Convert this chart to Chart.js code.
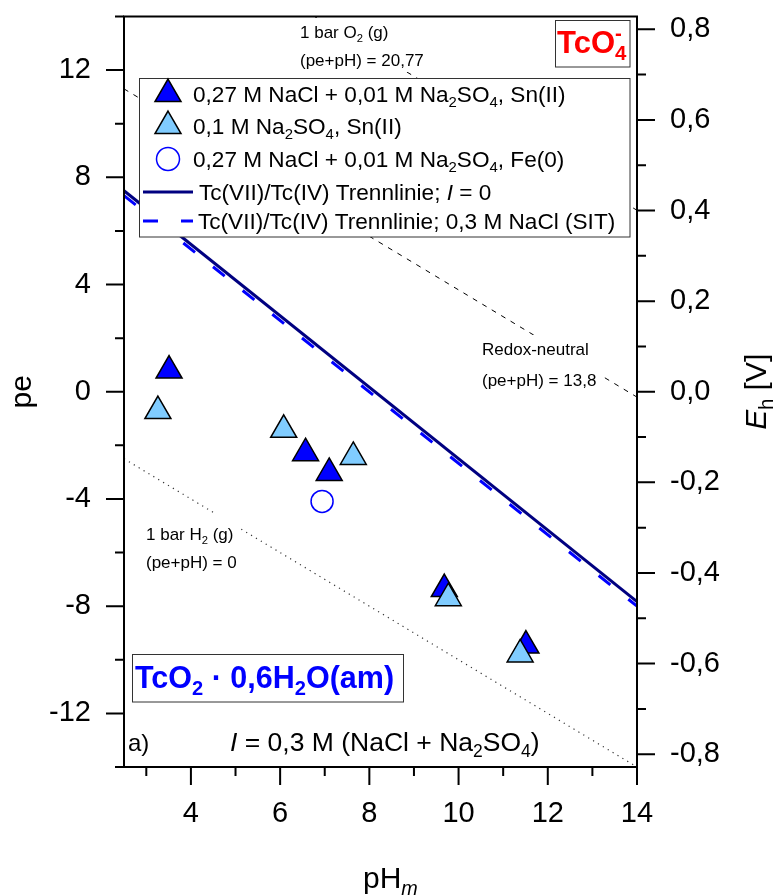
<!DOCTYPE html>
<html>
<head>
<meta charset="utf-8">
<script src="https://cdn.jsdelivr.net/npm/chart.js@4.4.0/dist/chart.umd.min.js"></script>
<style>
  html, body { margin: 0; padding: 0; background: #fff; }
  #wrap { width: 776px; height: 895px; position: relative; }
</style>
</head>
<body>
<div id="wrap"><canvas id="chart"></canvas></div>
<script>
const FONT = 'Arial, "Liberation Sans", Helvetica, sans-serif';
const EH_PER_PE = 0.05916;

// measured points (pH, pe)
const phSnNaCl = [3.51, 6.57, 7.10, 9.68, 11.51];
const peSnNaCl = [0.79, -2.29, -3.03, -7.36, -9.47];
const phSnSO4 = [3.26, 6.08, 7.64, 9.77, 11.38];
const peSnSO4 = [-0.72, -1.42, -2.43, -7.70, -9.80];
const phFe = [6.94];
const peFe = [-4.09];

// lines, given by their end points
const phLine = [2.5, 14];
const peTcI0 = [7.5, -7.83];
const peTcSIT = [7.32, -8.0];
const peO2 = [18.27, 6.77];
const peNeutral = [11.3, -0.2];
const peH2 = [-2.5, -14];

// axis ticks
const phTicks = [4, 6, 8, 10, 12, 14];
const phMinor = [3, 5, 7, 9, 11, 13];
const peTicks = [-12, -8, -4, 0, 4, 8, 12];
const peMinor = [-14, -10, -6, -2, 2, 6, 10, 14];
const ehTicks = [-0.8, -0.6, -0.4, -0.2, 0, 0.2, 0.4, 0.6, 0.8];
const ehMinor = [-0.7, -0.5, -0.3, -0.1, 0.1, 0.3, 0.5, 0.7];

const pts = (xs, ys) => xs.map((x, i) => ({ x: x, y: ys[i] }));

Chart.defaults.font.family = FONT;
Chart.defaults.color = '#000';

// text with sub/superscripts: parts = [[text, flags]], flags: i italic, b bold, _ sub, ^ sup, n no advance
function richParts(ctx, parts, size, bold) {
    return parts.map(p => {
        const f = p[1] || '';
        const small = f.includes('_') || f.includes('^');
        const s = small ? size * 0.66 : size;
        const font = (f.includes('i') ? 'italic ' : '') + (bold || f.includes('b') ? 'bold ' : '') + s + 'px ' + FONT;
        ctx.font = font;
        let dy = 0;
        if (f.includes('_')) dy = size * 0.22;
        if (f.includes('^')) dy = -size * 0.42;
        return { t: p[0], font: font, dy: dy, w: ctx.measureText(p[0]).width, adv: !f.includes('n') };
    });
}

function drawRich(ctx, parts, x, y, size, opts) {
    opts = opts || {};
    const items = richParts(ctx, parts, size, opts.bold);
    const total = items.reduce((a, it) => a + (it.adv ? it.w : 0), 0);
    let cx = x;
    if (opts.align === 'center') cx = x - total / 2;
    if (opts.align === 'right') cx = x - total;
    ctx.fillStyle = opts.color || '#000';
    ctx.textAlign = 'left';
    ctx.textBaseline = 'alphabetic';
    items.forEach(it => {
        ctx.font = it.font;
        ctx.fillText(it.t, cx, y + it.dy);
        if (it.adv) cx += it.w;
    });
}

const decor = {
    id: 'decor',
    afterDatasetsDraw(chart) {
        const ctx = chart.ctx;
        const a = chart.chartArea;
        const sx = chart.scales.x, sy = chart.scales.y, sy2 = chart.scales.y2;
        ctx.save();

        // white boxes under the reference line labels
        ctx.fillStyle = '#fff';
        ctx.fillRect(296, 18, 132, 54);
        ctx.fillRect(478, 335, 122, 60);
        ctx.fillRect(140, 514, 98, 60);
        drawRich(ctx, [['1 bar O'], ['2', '_'], [' (g)']], 300, 38, 17);
        drawRich(ctx, [['(pe+pH) = 20,77']], 300, 66, 17);
        drawRich(ctx, [['Redox-neutral']], 482, 355, 17);
        drawRich(ctx, [['(pe+pH) = 13,8']], 482, 386, 17);
        drawRich(ctx, [['1 bar H'], ['2', '_'], [' (g)']], 146, 540, 17);
        drawRich(ctx, [['(pe+pH) = 0']], 146, 568, 17);

        // species boxes
        ctx.fillStyle = '#fff';
        ctx.fillRect(555.5, 20.5, 74.5, 46.5);
        ctx.strokeStyle = '#333';
        ctx.lineWidth = 1;
        ctx.strokeRect(555.5, 20.5, 74.5, 46.5);
        drawRich(ctx, [['TcO'], ['-', '^n'], ['4', '_']], 557, 53, 31, { bold: true, color: '#ff0000' });

        ctx.fillStyle = '#fff';
        ctx.fillRect(132.5, 654.5, 271, 47.5);
        ctx.strokeRect(132.5, 654.5, 271, 47.5);
        drawRich(ctx, [['TcO'], ['2', '_'], [' \u00b7 0,6H'], ['2', '_'], ['O(am)']], 135, 688, 30.5, { bold: true, color: '#0000ff' });

        drawRich(ctx, [['a)']], 128, 751, 24);
        drawRich(ctx, [['I', 'i'], [' = 0,3 M (NaCl + Na'], ['2', '_'], ['SO'], ['4', '_'], [')']], 230, 751, 26.5);

        // legend
        const lx = 139.5, ly = 78.5, lw = 490.5, lh = 158.5;
        ctx.fillStyle = '#fff';
        ctx.fillRect(lx, ly, lw, lh);
        ctx.strokeStyle = '#333';
        ctx.lineWidth = 1;
        ctx.strokeRect(lx, ly, lw, lh);
        const rows = [94, 126, 159, 192, 221];
        const ds = chart.data.datasets;
        const tri = (row) => Chart.helpers.drawPoint(ctx, { pointStyle: 'triangle', radius: 15, borderWidth: 1.5, rotation: 0 }, 168, row);
        ctx.strokeStyle = '#000';
        ctx.lineWidth = 1.5;
        ctx.fillStyle = ds[2].backgroundColor;
        tri(rows[0]);
        ctx.fillStyle = ds[1].backgroundColor;
        ctx.strokeStyle = '#000';
        tri(rows[1]);
        ctx.fillStyle = 'rgba(0,0,0,0)';
        ctx.strokeStyle = ds[0].borderColor;
        Chart.helpers.drawPoint(ctx, { pointStyle: 'circle', radius: 11.5, borderWidth: 1.5, rotation: 0 }, 168, rows[2]);
        ctx.lineWidth = 3;
        ctx.strokeStyle = ds[3].borderColor;
        ctx.beginPath(); ctx.moveTo(143, rows[3]); ctx.lineTo(193, rows[3]); ctx.stroke();
        ctx.strokeStyle = ds[4].borderColor;
        ctx.setLineDash(ds[4].borderDash);
        ctx.beginPath(); ctx.moveTo(143, rows[4]); ctx.lineTo(193, rows[4]); ctx.stroke();
        ctx.setLineDash([]);
        const ls = 22.6;
        drawRich(ctx, [['0,27 M NaCl + 0,01 M Na'], ['2', '_'], ['SO'], ['4', '_'], [', Sn(II)']], 193, rows[0] + 8, ls);
        drawRich(ctx, [['0,1 M Na'], ['2', '_'], ['SO'], ['4', '_'], [', Sn(II)']], 193, rows[1] + 8, ls);
        drawRich(ctx, [['0,27 M NaCl + 0,01 M Na'], ['2', '_'], ['SO'], ['4', '_'], [', Fe(0)']], 193, rows[2] + 8, ls);
        drawRich(ctx, [['Tc(VII)/Tc(IV) Trennlinie; '], ['I', 'i'], [' = 0']], 199, rows[3] + 8, ls);
        drawRich(ctx, [['Tc(VII)/Tc(IV) Trennlinie; 0,3 M NaCl (SIT)']], 198, rows[4] + 8, ls);

        // frame and tick marks
        ctx.strokeStyle = '#000';
        ctx.lineWidth = 2;
        ctx.strokeRect(a.left, a.top, a.right - a.left, a.bottom - a.top);
        ctx.beginPath();
        peTicks.forEach(v => { const y = sy.getPixelForValue(v); ctx.moveTo(a.left - 18, y); ctx.lineTo(a.left, y); });
        peMinor.forEach(v => { const y = sy.getPixelForValue(v); ctx.moveTo(a.left - 9, y); ctx.lineTo(a.left, y); });
        phTicks.forEach(v => { const x = sx.getPixelForValue(v); ctx.moveTo(x, a.bottom); ctx.lineTo(x, a.bottom + 18); });
        phMinor.forEach(v => { const x = sx.getPixelForValue(v); ctx.moveTo(x, a.bottom); ctx.lineTo(x, a.bottom + 9); });
        ehTicks.forEach(v => { const y = sy2.getPixelForValue(v); ctx.moveTo(a.right, y); ctx.lineTo(a.right + 18, y); });
        ehMinor.forEach(v => { const y = sy2.getPixelForValue(v); ctx.moveTo(a.right, y); ctx.lineTo(a.right + 9, y); });
        ctx.stroke();

        // axis titles
        drawRich(ctx, [['pH'], ['m', '_i']], 363, 888, 30);
        ctx.translate(31, (a.top + a.bottom) / 2);
        ctx.rotate(-Math.PI / 2);
        drawRich(ctx, [['pe']], 0, 0, 30, { align: 'center' });
        ctx.setTransform(1, 0, 0, 1, 0, 0);
        ctx.translate(766, (a.top + a.bottom) / 2);
        ctx.rotate(-Math.PI / 2);
        drawRich(ctx, [['E', 'i'], ['h', '_'], [' [V]']], 0, 0, 30, { align: 'center' });
        ctx.restore();
    }
};

const axisGrid = { drawOnChartArea: false, drawTicks: true, tickLength: 18, color: 'rgba(0,0,0,0)' };
const noPad = s => { s.paddingTop = 0; s.paddingBottom = 0; s.paddingLeft = 0; s.paddingRight = 0; };

new Chart(document.getElementById('chart'), {
    type: 'scatter',
    data: {
        datasets: [
            { label: 'Fe(0)', data: pts(phFe, peFe), pointStyle: 'circle', pointRadius: 11, borderColor: '#0000ff', backgroundColor: 'rgba(255,255,255,0)', borderWidth: 1.5 },
            { label: 'Na2SO4 Sn(II)', data: pts(phSnSO4, peSnSO4), pointStyle: 'triangle', pointRadius: 15, backgroundColor: '#80ccff', borderColor: '#000', borderWidth: 1.5 },
            { label: 'NaCl Sn(II)', data: pts(phSnNaCl, peSnNaCl), pointStyle: 'triangle', pointRadius: 15, backgroundColor: '#0000ff', borderColor: '#000', borderWidth: 1.5 },
            { label: 'I = 0', data: pts(phLine, peTcI0), showLine: true, pointRadius: 0, borderColor: '#000080', borderWidth: 3 },
            { label: 'SIT', data: pts(phLine, peTcSIT), showLine: true, pointRadius: 0, borderColor: '#0000ff', borderWidth: 3, borderDash: [15, 23] },
            { label: 'neutral', data: pts(phLine, peNeutral), showLine: true, pointRadius: 0, borderColor: '#000', borderWidth: 1, borderDash: [5, 6] },
            { label: 'O2', data: pts(phLine, peO2), showLine: true, pointRadius: 0, borderColor: '#000', borderWidth: 1, borderDash: [5, 6] },
            { label: 'H2', data: pts(phLine, peH2), showLine: true, pointRadius: 0, borderColor: '#333', borderWidth: 1.2, borderDash: [1.2, 4.5] }
        ]
    },
    options: {
        responsive: true,
        maintainAspectRatio: false,
        animation: false,
        events: [],
        layout: { padding: { top: 13, left: 0, right: 0, bottom: 0 } },
        plugins: { legend: { display: false }, tooltip: { enabled: false } },
        scales: {
            x: {
                type: 'linear', position: 'bottom', min: 2.5, max: 14,
                afterBuildTicks: s => { s.ticks = phTicks.map(v => ({ value: v })); },
                afterFit: s => { s.height = 128; noPad(s); },
                grid: axisGrid, border: { display: false },
                ticks: { font: { size: 29 }, padding: 12, maxRotation: 0, autoSkip: false }
            },
            y: {
                type: 'linear', position: 'left', min: -14, max: 14,
                afterBuildTicks: s => { s.ticks = peTicks.map(v => ({ value: v })); },
                afterFit: s => { s.width = 124; noPad(s); },
                grid: axisGrid, border: { display: false },
                ticks: { font: { size: 29 }, padding: 15, autoSkip: false }
            },
            y2: {
                type: 'linear', position: 'right', min: -14 * EH_PER_PE, max: 14 * EH_PER_PE,
                afterBuildTicks: s => { s.ticks = ehTicks.map(v => ({ value: v })); },
                afterFit: s => { s.width = 139; noPad(s); },
                grid: axisGrid, border: { display: false },
                ticks: { font: { size: 29 }, padding: 15, autoSkip: false, callback: v => v.toFixed(1).replace('.', ',') }
            }
        }
    },
    plugins: [decor]
});
</script>
</body>
</html>
